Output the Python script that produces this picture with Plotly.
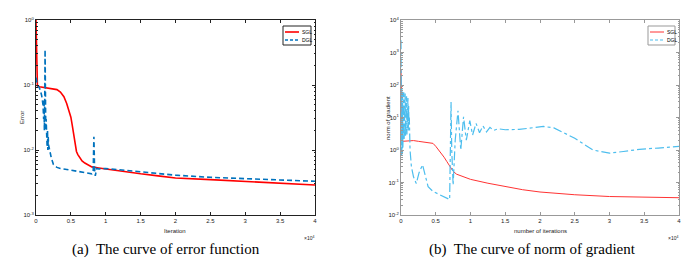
import plotly.graph_objects as go

# ---------------- data (x in units of 1e4 iterations) ----------------
# (a) error function
sgl_err_x = [0, 0.005, 0.01, 0.02, 0.05, 0.1, 0.2, 0.3, 0.35, 0.4, 0.44, 0.47, 0.5, 0.52, 0.54, 0.56, 0.58, 0.6,
             0.63, 0.66, 0.7, 0.75, 0.8, 0.9, 1.0, 1.25, 1.5, 1.75, 2.0, 2.5, 3.0, 3.5, 4.0]
sgl_err_y = [1.0, 0.3, 0.11, 0.097, 0.094, 0.092, 0.09, 0.085, 0.078, 0.066, 0.052, 0.042, 0.032, 0.024, 0.017, 0.012,
             0.0095, 0.0085, 0.0075, 0.0068, 0.0063, 0.0058, 0.0055, 0.0053, 0.0051, 0.0047, 0.0043, 0.0040, 0.0037,
             0.0035, 0.0033, 0.0031, 0.0029]
dgl_err_x = [0, 0.02, 0.05, 0.08, 0.1, 0.11, 0.115, 0.12, 0.125, 0.13, 0.133, 0.136, 0.14, 0.145, 0.15, 0.155, 0.16,
             0.165, 0.17, 0.175, 0.18, 0.19, 0.2, 0.22, 0.25, 0.3, 0.35, 0.5, 0.65, 0.8, 0.82, 0.83, 0.84, 0.85,
             0.87, 0.9, 1.0, 1.5, 2.0, 2.5, 3.0, 3.5, 4.0]
dgl_err_y = [0.13, 0.1, 0.09, 0.07, 0.05, 0.03, 0.06, 0.02, 0.05, 0.35, 0.04, 0.1, 0.02, 0.03, 0.012, 0.025, 0.011,
             0.02, 0.01, 0.016, 0.012, 0.011, 0.0095, 0.0075, 0.006, 0.0054, 0.0052, 0.0049, 0.0046, 0.0043, 0.0045,
             0.016, 0.005, 0.004, 0.0052, 0.0051, 0.0052, 0.0046, 0.0041, 0.0038, 0.0036, 0.0034, 0.0033]

# (b) norm of gradient
sgl_grad_x = [0, 0.005, 0.01, 0.02, 0.1, 0.18, 0.25, 0.32, 0.4, 0.46, 0.5, 0.56, 0.62, 0.66, 0.7, 0.75, 0.8, 0.9,
              1.0, 1.25, 1.5, 1.75, 2.0, 2.5, 3.0, 3.5, 4.0]
sgl_grad_y = [300, 20, 3, 1.85, 1.9, 1.95, 1.85, 1.75, 1.7, 1.6, 1.3, 0.9, 0.6, 0.44, 0.32, 0.22, 0.18, 0.15,
              0.125, 0.095, 0.074, 0.06, 0.051, 0.042, 0.037, 0.035, 0.034]
dgl_grad_x = [0, 0.003, 0.006, 0.009, 0.012, 0.015, 0.018, 0.021, 0.024, 0.027, 0.03, 0.035, 0.04, 0.045, 0.05,
              0.055, 0.06, 0.065, 0.07, 0.075, 0.08, 0.085, 0.09, 0.095, 0.1, 0.105, 0.11, 0.115, 0.12, 0.13,
              0.15, 0.18, 0.22, 0.26, 0.31, 0.35, 0.39, 0.46, 0.56, 0.69, 0.7, 0.72, 0.73, 0.75, 0.78, 0.82,
              0.86, 0.9, 0.94, 0.99, 1.03, 1.08, 1.13, 1.18, 1.23, 1.28, 1.33, 1.4, 1.5, 1.7, 1.9, 2.05, 2.2,
              2.5, 2.76, 3.0, 3.2, 3.43, 3.7, 4.0]
dgl_grad_y = [2400, 1.0, 120, 0.7, 80, 1.0, 40, 0.8, 60, 1.2, 50, 1.5, 60, 2.0, 40, 3.0, 55, 2.5, 35, 4.0, 45,
              3.0, 30, 5.0, 40, 4.0, 25, 6.0, 10, 1.0, 0.3, 0.15, 0.093, 0.2, 0.35, 0.15, 0.074, 0.053, 0.042,
              0.03, 0.03, 30, 1.0, 0.083, 2.0, 16, 1.0, 10.5, 2.0, 8.0, 2.9, 6.6, 3.4, 5.5, 3.6, 5.0, 4.0, 4.5,
              4.2, 4.3, 4.8, 5.3, 4.8, 2.3, 1.0, 0.8, 0.9, 1.05, 1.15, 1.3]

series_names = ["SGL", "DGL"]
x_ticks = [0, 0.5, 1, 1.5, 2, 2.5, 3, 3.5, 4]
x_tick_labels = ["0", "0.5", "1", "1.5", "2", "2.5", "3", "3.5", "4"]
err_ticks = [1e-3, 1e-2, 1e-1, 1e0]
err_tick_labels = ["10<sup>-3</sup>", "10<sup>-2</sup>", "10<sup>-1</sup>", "10<sup>0</sup>"]
grad_ticks = [1e-2, 1e-1, 1e0, 1e1, 1e2, 1e3, 1e4]
grad_tick_labels = ["10<sup>-2</sup>", "10<sup>-1</sup>", "10<sup>0</sup>", "10<sup>1</sup>",
                    "10<sup>2</sup>", "10<sup>3</sup>", "10<sup>4</sup>"]
captions = ["(a)  The curve of error function", "(b)  The curve of norm of gradient"]

W, H = 693, 263
def fx(px): return px / W
def fy(py): return 1 - py / H

styles_a = [dict(color="#FF0000", width=1.6), dict(color="#0072BD", width=1.6, dash="5px,3px")]
styles_b = [dict(color="#FF3333", width=1), dict(color="#4DBEEE", width=1.2, dash="dashdot")]

fig = go.Figure()
fig.add_trace(go.Scatter(x=sgl_err_x, y=sgl_err_y, mode="lines", name=series_names[0],
                         line=styles_a[0], xaxis="x", yaxis="y"))
fig.add_trace(go.Scatter(x=dgl_err_x, y=dgl_err_y, mode="lines", name=series_names[1],
                         line=styles_a[1], xaxis="x", yaxis="y"))
fig.add_trace(go.Scatter(x=sgl_grad_x, y=sgl_grad_y, mode="lines", name=series_names[0],
                         line=styles_b[0], xaxis="x2", yaxis="y2"))
fig.add_trace(go.Scatter(x=dgl_grad_x, y=dgl_grad_y, mode="lines", name=series_names[1],
                         line=styles_b[1], xaxis="x2", yaxis="y2"))

tickfont = dict(family="Liberation Sans", size=6, color="#222")
def xax(domain, color, anchor):
    return dict(domain=domain, range=[0, 4], tickvals=x_ticks, ticktext=x_tick_labels, ticks="inside",
                ticklen=3, tickcolor=color, linecolor=color, linewidth=1, mirror="ticks", showgrid=False,
                zeroline=False, tickfont=tickfont, anchor=anchor, showline=True, automargin=False)
def yax(domain, color, anchor, rng, tv, tt):
    return dict(domain=domain, type="log", range=rng, tickvals=tv, ticktext=tt, ticks="inside", ticklen=3,
                tickcolor=color, linecolor=color, linewidth=1, mirror="ticks", showgrid=False, zeroline=False,
                tickfont=tickfont, anchor=anchor, showline=True, automargin=False,
                minor=dict(ticks="inside", ticklen=1.5, tickcolor=color, showgrid=False, dtick="D1"))

ydom = [fy(215), fy(20)]
fig.update_layout(
    width=W, height=H, margin=dict(l=0, r=0, t=0, b=0, pad=0), paper_bgcolor="white", plot_bgcolor="white",
    xaxis=xax([fx(36), fx(315)], "#222", "y"),
    yaxis=yax(ydom, "#222", "x", [-3, 0], err_ticks, err_tick_labels),
    xaxis2=xax([fx(401), fx(679)], "#999", "y2"),
    yaxis2=yax(ydom, "#999", "x2", [-2, 4], grad_ticks, grad_tick_labels),
    showlegend=False,
)

# custom compact legends (MATLAB style boxes)
shapes, ann = [], []
leg_font = dict(family="Liberation Sans", size=5, color="#000")
for (x0, x1, bc, styles) in [(283, 311, "#222", styles_a), (648, 675, "#999", styles_b)]:
    shapes.append(dict(type="rect", xref="paper", yref="paper", x0=fx(x0), x1=fx(x1), y0=fy(45), y1=fy(26),
                       line=dict(color=bc, width=1), fillcolor="white", layer="above"))
    for i, st in enumerate(styles):
        yy = 32 + i * 8
        shapes.append(dict(type="line", xref="paper", yref="paper", x0=fx(x0 + 2), x1=fx(x0 + 16),
                           y0=fy(yy), y1=fy(yy), line=dict(color=st["color"], width=st["width"],
                                                            dash="3px,2px" if i == 1 else "solid"),
                           layer="above"))
        ann.append(dict(x=fx(x0 + 17), y=fy(yy), xref="paper", yref="paper", text=series_names[i],
                        showarrow=False, font=leg_font, xanchor="left", yanchor="middle"))

def note(px, py, text, font, angle=0):
    return dict(x=fx(px), y=fy(py), xref="paper", yref="paper", text=text, showarrow=False, font=font,
                textangle=angle, xanchor="center", yanchor="middle")

small = dict(family="Liberation Sans", size=6, color="#222")
ann.append(note(175, 231, "Iteration", small))
ann.append(note(540, 231, "number of iterations", small))
ann.append(note(22, 118, "Error", small, -90))
ann.append(note(388, 118, "norm of gradient", small, -90))
tiny = dict(family="Liberation Sans", size=5, color="#222")
ann.append(note(309, 238, "×10<sup>4</sup>", tiny))
ann.append(note(673, 238, "×10<sup>4</sup>", tiny))
cap_font = dict(family="Liberation Serif", size=15, color="#000")
ann.append(note(166, 249, captions[0], cap_font))
ann.append(note(532, 249, captions[1], cap_font))
fig.update_layout(annotations=ann, shapes=shapes)

fig.write_html("out.html", config={"displayModeBar": False},
               post_script="document.body.style.margin='0px';document.body.style.overflow='hidden';")
